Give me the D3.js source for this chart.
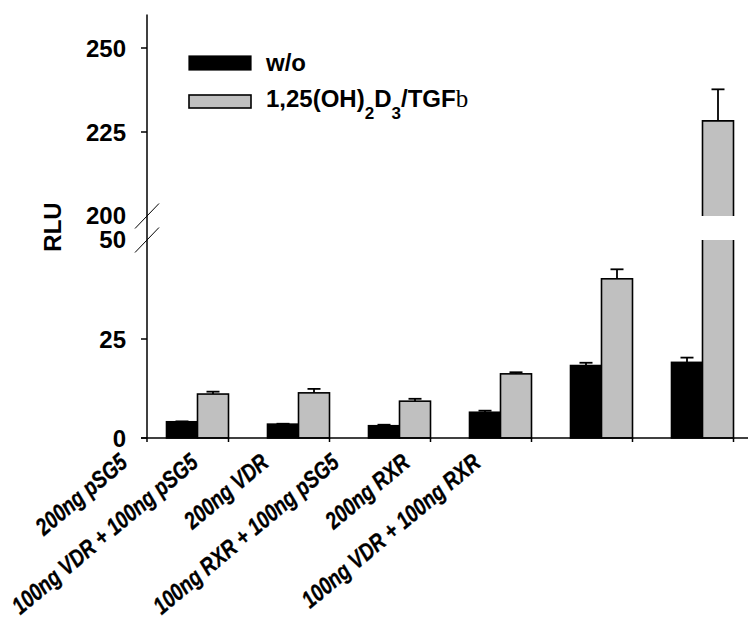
<!DOCTYPE html>
<html><head><meta charset="utf-8">
<script src="https://cdn.jsdelivr.net/npm/d3@7/dist/d3.min.js"></script>
<style>body{margin:0;background:#fff}svg{display:block}</style>
</head><body>
<svg id="chart" width="748" height="621"></svg>
<script>
// ---- data ----
const categories = ["200ng pSG5","100ng VDR + 100ng pSG5","200ng VDR","100ng RXR + 100ng pSG5","200ng RXR","100ng VDR + 100ng RXR"];
const series = ["w/o","treated"];
const woValues = [4.1, 3.5, 3.1, 6.5, 18.3, 19.1];
const woErr = [0.1, 0.1, 0.25, 0.4, 0.7, 1.2];
const treatValues = [11.1, 11.4, 9.3, 16.2, 40.2, 228.3];
const treatErr = [0.6, 1.0, 0.6, 0.4, 2.4, 9.4];
const lowerTicks = [0, 25];
const upperTicks = [225, 250];
const breakLabels = [200, 50];
const lowerDomain = [0, 50];
const upperDomain = [200, 260];

// ---- layout ----
const svg = d3.select("#chart");
const axisX = 147;
const yLow = d3.scaleLinear().domain(lowerDomain).range([438, 240]);
const yHigh = d3.scaleLinear().domain(upperDomain).range([216, 14.4]);
const x0 = d3.scaleBand().domain(categories).range([axisX, axisX + 606]).padding(0);
const x1 = d3.scaleBand().domain(series).range([19.5, 81.5]).padding(0);
const labelPos = d3.scalePoint().domain(categories).range([129, 482]);
const fills = {"w/o": "#000000", "treated": "#c0c0c0"};
const font = "'Liberation Sans', Arial, sans-serif";

const rows = categories.map((c, i) => ({
  cat: c,
  bars: [
    {s: "w/o", v: woValues[i], e: woErr[i]},
    {s: "treated", v: treatValues[i], e: treatErr[i]}
  ]
}));

function yv(v) { return v <= lowerDomain[1] ? yLow(v) : yHigh(v); }

// bars
const g = svg.append("g");
rows.forEach(r => {
  r.bars.forEach(b => {
    const xl = x0(r.cat) + x1(b.s), w = x1.bandwidth(), xr = xl + w;
    if (b.v <= lowerDomain[1]) {
      g.append("rect").attr("x", xl).attr("y", yLow(b.v)).attr("width", w)
        .attr("height", yLow(0) - yLow(b.v)).attr("fill", fills[b.s])
        .attr("stroke", "#000").attr("stroke-width", 1.6);
    } else {
      g.append("rect").attr("x", xl).attr("y", yLow(lowerDomain[1])).attr("width", w)
        .attr("height", yLow(0) - yLow(lowerDomain[1])).attr("fill", fills[b.s]);
      g.append("rect").attr("x", xl).attr("y", yHigh(b.v)).attr("width", w)
        .attr("height", yHigh(upperDomain[0]) - yHigh(b.v)).attr("fill", fills[b.s]);
      g.append("path").attr("fill", "none").attr("stroke", "#000").attr("stroke-width", 1.6)
        .attr("d", `M${xl},${yLow(lowerDomain[1])}V${yLow(0)}H${xr}V${yLow(lowerDomain[1])}` +
                   `M${xl},${yHigh(upperDomain[0])}V${yHigh(b.v)}H${xr}V${yHigh(upperDomain[0])}`);
    }
    // error bar (upward)
    const cx = xl + w / 2;
    const top = yv(b.v + b.e);
    g.append("line").attr("x1", cx).attr("x2", cx).attr("y1", yv(b.v)).attr("y2", top)
      .attr("stroke", "#000").attr("stroke-width", 1.8);
    g.append("line").attr("x1", cx - 6.5).attr("x2", cx + 6.5).attr("y1", top).attr("y2", top)
      .attr("stroke", "#000").attr("stroke-width", 1.8);
  });
});

// axes
const ax = svg.append("g").attr("stroke", "#000").attr("stroke-width", 1.5);
ax.append("line").attr("x1", axisX).attr("x2", axisX).attr("y1", yHigh(upperDomain[1])).attr("y2", yLow(0));
ax.append("line").attr("x1", axisX - 6).attr("x2", 748).attr("y1", yLow(0)).attr("y2", yLow(0));
lowerTicks.forEach(t => ax.append("line").attr("x1", axisX - 6).attr("x2", axisX).attr("y1", yLow(t)).attr("y2", yLow(t)));
upperTicks.forEach(t => ax.append("line").attr("x1", axisX - 6).attr("x2", axisX).attr("y1", yHigh(t)).attr("y2", yHigh(t)));
// x ticks
const xTickPos = [axisX].concat(categories.map(c => x0(c) + x1.range()[1]));
xTickPos.forEach(p => ax.append("line").attr("x1", p).attr("x2", p).attr("y1", yLow(0)).attr("y2", yLow(0) + 4));
// break marks
[yHigh(upperDomain[0]), yLow(lowerDomain[1])].forEach(yy => {
  svg.append("line").attr("x1", axisX - 12).attr("x2", axisX + 12).attr("y1", yy + 12.5).attr("y2", yy - 12.5)
    .attr("stroke", "#000").attr("stroke-width", 1);
});

// y tick labels
const lab = svg.append("g").attr("font-family", font).attr("font-weight", "bold").attr("font-size", 24)
  .attr("text-anchor", "end").attr("fill", "#000");
lowerTicks.forEach(t => lab.append("text").attr("x", 126).attr("y", yLow(t)).attr("dy", "0.36em").text(t));
upperTicks.forEach(t => lab.append("text").attr("x", 126).attr("y", yHigh(t)).attr("dy", "0.36em").text(t));
lab.append("text").attr("x", 126).attr("y", yHigh(breakLabels[0])).attr("dy", "0.34em").text(breakLabels[0]);
lab.append("text").attr("x", 126).attr("y", yLow(breakLabels[1])).attr("dy", "0.34em").text(breakLabels[1]);

// y title
svg.append("text").attr("transform", "translate(61,227) rotate(-90)").attr("text-anchor", "middle")
  .attr("font-family", font).attr("font-weight", "bold").attr("font-size", 24).text("RLU");

// x labels
categories.forEach(c => {
  svg.append("text").attr("transform", `translate(${labelPos(c)},465) rotate(-40) scale(0.8,1)`)
    .attr("text-anchor", "end").attr("font-family", font).attr("font-weight", "bold")
    .attr("font-style", "italic").attr("font-size", 24)
    .attr("stroke", "#000").attr("stroke-width", 0.3).text(c);
});

// legend
const lg = svg.append("g");
lg.append("rect").attr("x", 189).attr("y", 56).attr("width", 62).attr("height", 14).attr("fill", "#000").attr("stroke", "#000").attr("stroke-width", 1.2);
lg.append("rect").attr("x", 189).attr("y", 95).attr("width", 62).attr("height", 13).attr("fill", "#c0c0c0").attr("stroke", "#000").attr("stroke-width", 1.6);
lg.append("text").attr("x", 266).attr("y", 71).attr("font-family", font).attr("font-weight", "bold").attr("font-size", 24).text("w/o");
const t2 = lg.append("text").attr("x", 266).attr("y", 107).attr("font-family", font).attr("font-weight", "bold").attr("font-size", 24);
t2.append("tspan").text("1,25(OH)");
t2.append("tspan").attr("font-size", 17).attr("dy", 12).text("2");
t2.append("tspan").attr("dy", -12).text("D");
t2.append("tspan").attr("font-size", 17).attr("dy", 12).text("3");
t2.append("tspan").attr("dy", -12).text("/TGF");
t2.append("tspan").attr("font-family", "'Liberation Serif', serif").attr("font-weight", "normal").attr("font-size", 25).text("b");
</script>
</body></html>
